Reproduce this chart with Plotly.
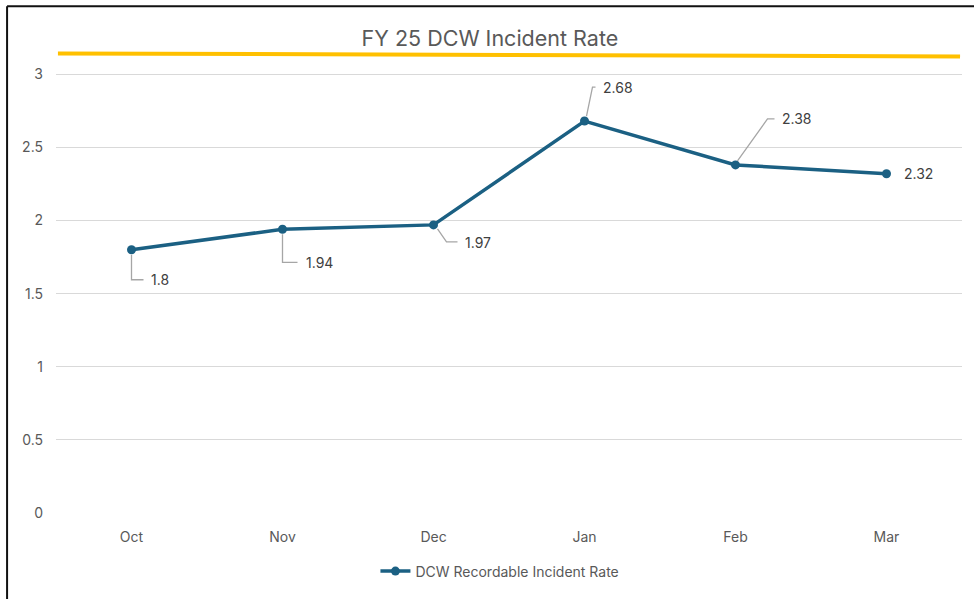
import plotly.graph_objects as go

months = ["Oct", "Nov", "Dec", "Jan", "Feb", "Mar"]
rates = [1.8, 1.94, 1.97, 2.68, 2.38, 2.32]
rate_labels = ["1.8", "1.94", "1.97", "2.68", "2.38", "2.32"]
target_x = [-0.487, 5.487]
target_y = [3.142, 3.122]
y_ticks = [0, 0.5, 1, 1.5, 2, 2.5, 3]

line_col = "#1B6083"
txt_col = "#595959"
font = "Inter, Lato, sans-serif"

x_idx = list(range(len(months)))

fig = go.Figure()

fig.add_trace(go.Scatter(
    x=target_x, y=target_y, mode="lines",
    line=dict(color="#FFC000", width=4),
    showlegend=False, hoverinfo="skip"))

fig.add_trace(go.Scatter(
    x=x_idx, y=rates, mode="lines+markers",
    line=dict(color=line_col, width=3.5),
    marker=dict(color=line_col, size=9),
    name="DCW Recordable Incident Rate"))

# label offsets (px) and leader line paths relative to each point
label_pos = [(17, -30), (21, -33), (29, -18), (16, 34), (44, 46), (15, 0)]
leaders = [
    "M0,-5 L0,-30 L12,-30",
    "M0,-5 L0,-33 L15,-33",
    "M4,-4 L13,-17 L24,-17",
    "M2,5 L8,34 L11,34",
    "M2,4 L32,46 L39,46",
    None,
]

for i, (xv, yv) in enumerate(zip(x_idx, rates)):
    dx, dy = label_pos[i]
    fig.add_annotation(
        x=xv, y=yv, text=rate_labels[i], showarrow=False,
        xanchor="left", yanchor="middle", xshift=dx, yshift=dy,
        font=dict(size=14, color="#404040", family=font))
    if leaders[i]:
        fig.add_shape(
            type="path", xref="x", yref="y",
            xsizemode="pixel", ysizemode="pixel",
            xanchor=xv, yanchor=yv, path=leaders[i],
            line=dict(color="#A6A6A6", width=1.3))

# chart frame (left and top edges)
fig.add_shape(type="line", xref="paper", yref="paper",
              x0=-0.054, x1=-0.054, y0=-0.2, y1=1.083,
              line=dict(color="#111111", width=2))
fig.add_shape(type="line", xref="paper", yref="paper",
              x0=-0.054, x1=1.05, y0=1.083, y1=1.083,
              line=dict(color="#111111", width=2))

fig.update_layout(
    width=974, height=599,
    margin=dict(l=56, r=12, t=45, b=74),
    paper_bgcolor="white", plot_bgcolor="white",
    font=dict(family=font, color=txt_col, size=14),
    title=dict(text="FY 25 DCW Incident Rate", x=0.503, xref="container",
               xanchor="center", y=0.936, yref="container", yanchor="middle",
               font=dict(size=21.5, color=txt_col, family=font)),
    legend=dict(orientation="h", x=0.49, xanchor="center", y=-0.125,
                yanchor="middle", font=dict(size=14, color=txt_col)),
    xaxis=dict(range=[-0.5, 5.5], tickvals=x_idx, ticktext=months,
               showgrid=False, zeroline=False, showline=False,
               ticklabelstandoff=14),
    yaxis=dict(range=[0, 3.2], tickvals=y_ticks, ticktext=[str(v) for v in y_ticks],
               showgrid=True, gridcolor="#D9D9D9", gridwidth=1.3,
               zeroline=False, showline=False, ticklabelstandoff=12),
)

fig.write_html("out.html", config={"displayModeBar": False},
               post_script="document.body.style.margin='0';")
